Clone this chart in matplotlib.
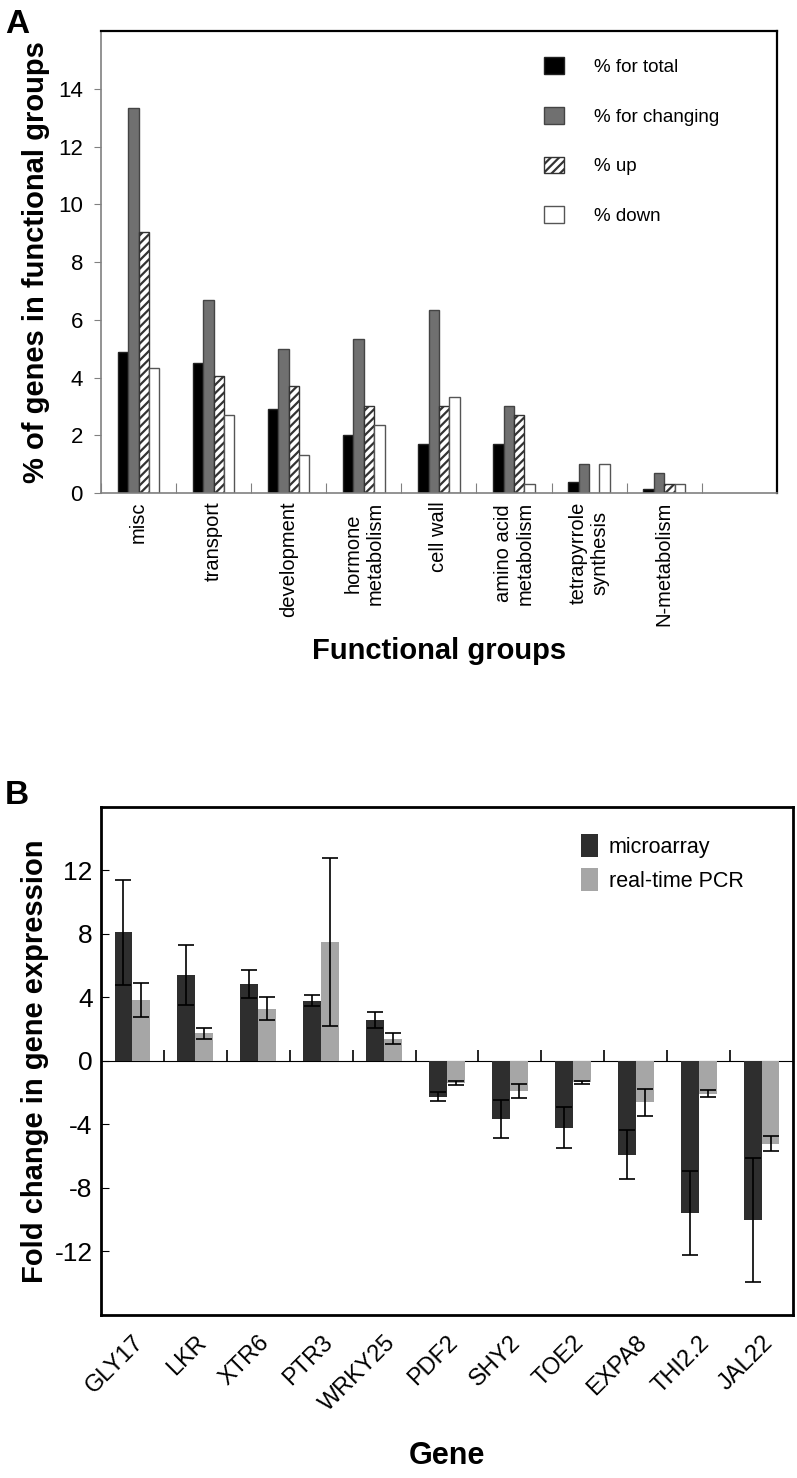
import numpy as np
import matplotlib.pyplot as plt

plt.rcParams['font.family'] = ['Liberation Sans', 'DejaVu Sans']
plt.rcParams['hatch.linewidth'] = 1.6

# ---- panel A data ----
groups = ["misc", "transport", "development", "hormone\nmetabolism", "cell wall",
          "amino acid\nmetabolism", "tetrapyrrole\nsynthesis", "N-metabolism"]
pct_total = [4.9, 4.5, 2.9, 2.0, 1.7, 1.7, 0.4, 0.15]
pct_changing = [13.35, 6.7, 5.0, 5.35, 6.35, 3.0, 1.0, 0.68]
pct_up = [9.05, 4.05, 3.7, 3.0, 3.0, 2.7, 0.0, 0.33]
pct_down = [4.32, 2.7, 1.33, 2.35, 3.33, 0.33, 1.0, 0.33]
series_a = ["% for total", "% for changing", "% up", "% down"]

# ---- panel B data ----
genes = ["GLY17", "LKR", "XTR6", "PTR3", "WRKY25", "PDF2", "SHY2", "TOE2",
         "EXPA8", "THI2.2", "JAL22"]
micro = [8.1, 5.4, 4.85, 3.8, 2.6, -2.25, -3.65, -4.2, -5.9, -9.6, -10.0]
micro_err = [3.3, 1.9, 0.9, 0.35, 0.5, 0.3, 1.2, 1.3, 1.55, 2.65, 3.9]
pcr = [3.85, 1.75, 3.3, 7.5, 1.4, -1.4, -1.9, -1.35, -2.6, -2.05, -5.2]
pcr_err = [1.05, 0.35, 0.7, 5.3, 0.35, 0.12, 0.45, 0.1, 0.85, 0.25, 0.5]

fig = plt.figure(figsize=(7.97, 14.78), dpi=100)

# ================= Panel A =================
axA = fig.add_axes([0.1267, 0.6664, 0.848, 0.3126])
x = np.arange(len(groups))
w = 0.138
styles = [
    dict(color="#000000", edgecolor="#222222"),
    dict(color="#707070", edgecolor="#444444"),
    dict(color="white", edgecolor="#333333", hatch="////"),
    dict(color="white", edgecolor="#555555"),
]
for i, (vals, st) in enumerate(zip([pct_total, pct_changing, pct_up, pct_down], styles)):
    axA.bar(x + (i - 1.5) * w, vals, w, linewidth=1.0, label=series_a[i], **st)

axA.set_xlim(-0.5, len(groups) + 0.5)
axA.set_ylim(0, 16)
axA.set_yticks(np.arange(0, 15, 2))
axA.tick_params(axis="y", direction="out", length=5, color="#808080",
                labelsize=16, pad=8)
axA.set_xticks(np.arange(len(groups) + 1) - 0.5)
axA.set_xticklabels([])
axA.tick_params(axis="x", which="major", direction="in", length=7, color="#808080")
axA.set_xticks(x, minor=True)
axA.set_xticklabels(groups, minor=True, rotation=90, fontsize=14.5,
                    ha="center", va="top", multialignment="center")
axA.tick_params(axis="x", which="minor", length=0, pad=6)
for s in ["left", "bottom"]:
    axA.spines[s].set_color("#808080")
    axA.spines[s].set_linewidth(1.2)
for s in ["top", "right"]:
    axA.spines[s].set_color("black")
    axA.spines[s].set_linewidth(1.6)
axA.set_ylabel("% of genes in functional groups", fontsize=21,
               fontweight="bold", labelpad=6)
axA.set_xlabel("Functional groups", fontsize=21, fontweight="bold", labelpad=8)
axA.legend(loc="upper left", bbox_to_anchor=(0.63, 0.98), frameon=False,
           fontsize=13.5, handlelength=1.1, handleheight=1.0,
           labelspacing=1.65, handletextpad=1.6)

# ================= Panel B =================
axB = fig.add_axes([0.1267, 0.1103, 0.8683, 0.3437])
xb = np.arange(len(genes))
wb = 0.285
ekw = dict(elinewidth=1.2, capthick=1.2, ecolor="black")
axB.bar(xb - wb / 2, micro, wb, color="#2e2e2e", label="microarray",
        yerr=micro_err, capsize=6, error_kw=ekw)
axB.bar(xb + wb / 2, pcr, wb, color="#a6a6a6", label="real-time PCR",
        yerr=pcr_err, capsize=6, error_kw=ekw)
axB.set_xlim(-0.5, len(genes) - 0.5)
axB.set_ylim(-16, 16)
axB.set_yticks(np.arange(-12, 13, 4))
axB.set_yticklabels([str(v) for v in np.arange(-12, 13, 4)])
axB.tick_params(axis="y", direction="in", length=6, labelsize=19, pad=6)
axB.set_xticks(xb)
axB.set_xticklabels(genes, rotation=45, ha="right", va="top",
                    rotation_mode="anchor", fontsize=17)
axB.tick_params(axis="x", length=0, pad=12)
for s in axB.spines.values():
    s.set_linewidth(2.0)
    s.set_color("black")

# zero line with boundary ticks
ymin, ymax = axB.get_ylim()
zero_ax = axB.secondary_xaxis((0 - ymin) / (ymax - ymin))
zero_ax.set_xticks(np.arange(1, len(genes)) - 0.5)
zero_ax.tick_params(direction="out", length=8, width=1.2, labelbottom=False,
                    labeltop=False)
zero_ax.spines["bottom"].set_linewidth(1.3)

axB.set_ylabel("Fold change in gene expression", fontsize=21,
               fontweight="bold", labelpad=4)
axB.set_xlabel("Gene", fontsize=22, fontweight="bold", labelpad=18)
axB.legend(loc="upper left", bbox_to_anchor=(0.665, 0.985), frameon=False,
           fontsize=15.5, handlelength=0.8, handleheight=1.3,
           labelspacing=0.45, handletextpad=0.5)

fig.text(0.006, 0.994, "A", fontsize=24, fontweight="bold", va="top")
fig.text(0.006, 0.472, "B", fontsize=24, fontweight="bold", va="top")

fig.savefig("out.png", dpi=100)
